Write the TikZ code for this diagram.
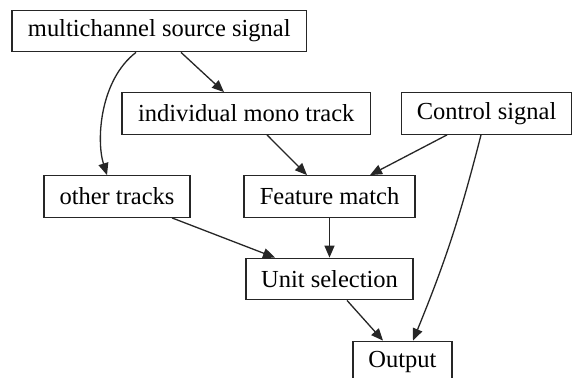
\documentclass[tikz,border=0pt]{standalone}
\usepackage{fontspec}
\setmainfont{Liberation Serif}
\usetikzlibrary{arrows.meta}
\begin{document}
\begin{tikzpicture}[x=1pt,y=-1pt,
  box/.style={draw=black!85, line width=1.3pt, rectangle, inner sep=0pt,
    minimum height=41.5pt, font=\fontsize{24.5}{29}\selectfont, text=black},
  link/.style={draw=black!85, line width=1.3pt,
    -{Triangle[length=12pt,width=10pt]}}]
  \clip (0,0) rectangle (574,378);
  \fill[white] (0,0) rectangle (574,378);

  % boxes
  \node[box, minimum width=294.5pt] (msrc)  at (159.25,31)  {multichannel source signal};
  \node[box, minimum width=248.5pt] (imono) at (246.25,113.5) {individual mono track};
  \node[box, minimum width=170pt]   (ctrl)  at (486.6,113.5) {Control signal};
  \node[box, minimum width=146pt]   (other) at (117,196.5)  {other tracks};
  \node[box, minimum width=171pt]   (feat)  at (329.5,196.5) {Feature match};
  \node[box, minimum width=167pt]   (unit)  at (329.5,279)  {Unit selection};
  \node[box, minimum width=99pt]    (out)   at (402.5,362)  {Output};

  % connectors
  \draw[link] ([xshift=21.75pt]msrc.south) -- ([xshift=-22.25pt]imono.north);
  \draw[link] ([xshift=-23.25pt]msrc.south) .. controls (100,80) and (96,140) .. ([xshift=-10pt]other.north);
  \draw[link] ([xshift=20.75pt]imono.south) -- ([xshift=-22.5pt]feat.north);
  \draw[link] ([xshift=-39.6pt]ctrl.south) -- ([xshift=40.5pt]feat.north);
  \draw[link] ([xshift=-5.6pt]ctrl.south) to[bend left=4] ([xshift=10.5pt]out.north);
  \draw[link] ([xshift=55pt]other.south) -- ([xshift=-54.5pt]unit.north);
  \draw[link] (feat.south) -- (unit.north);
  \draw[link] ([xshift=17.5pt]unit.south) -- ([xshift=-19.5pt]out.north);
\end{tikzpicture}
\end{document}
